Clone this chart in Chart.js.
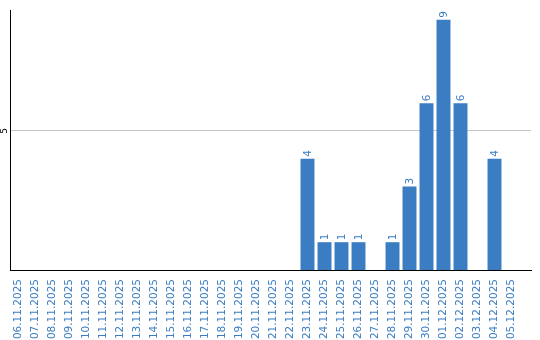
<!DOCTYPE html>
<html>
<head>
<meta charset="utf-8">
<script src="https://cdn.jsdelivr.net/npm/chart.js@4"></script>
<style>
  html, body { margin: 0; padding: 0; background: #fff; }
  #wrap { width: 540px; height: 340px; }
</style>
</head>
<body>
<div id="wrap"><canvas id="chart"></canvas></div>
<script>
// dias
const dias = ['06.11.2025', '07.11.2025', '08.11.2025', '09.11.2025', '10.11.2025',
  '11.11.2025', '12.11.2025', '13.11.2025', '14.11.2025', '15.11.2025',
  '16.11.2025', '17.11.2025', '18.11.2025', '19.11.2025', '20.11.2025',
  '21.11.2025', '22.11.2025', '23.11.2025', '24.11.2025', '25.11.2025',
  '26.11.2025', '27.11.2025', '28.11.2025', '29.11.2025', '30.11.2025',
  '01.12.2025', '02.12.2025', '03.12.2025', '04.12.2025', '05.12.2025'];

// contagens por dia
const contagens = [0, 0, 0, 0, 0, 0, 0, 0, 0, 0,
  0, 0, 0, 0, 0, 0, 0, 4, 1, 1,
  1, 0, 1, 3, 6, 9, 6, 0, 4, 0];

// marcas do eixo y
const marcasY = [5];

const azul = '#3b7dc3';
const fonte = 'DejaVu Sans';
const larguraDia = 17;

// as categorias ocupam só parte da área; o eixo continua até a borda
const encurtarX = {
  id: 'encurtarX',
  afterLayout(chart) {
    const x = chart.scales.x;
    x._endPixel = x._startPixel + larguraDia * dias.length;
    x._length = x._endPixel - x._startPixel;
  }
};

// rótulos de valor acima das barras e marca do eixo y, girados
const rotulos = {
  id: 'rotulos',
  afterDatasetsDraw(chart) {
    const ctx = chart.ctx;
    const meta = chart.getDatasetMeta(0);
    ctx.save();
    ctx.font = '10.5px "' + fonte + '"';
    ctx.fillStyle = azul;
    meta.data.forEach((bar, i) => {
      const v = contagens[i];
      if (!v) return;
      ctx.save();
      ctx.translate(bar.x + 0.5, bar.y - 2);
      ctx.rotate(-Math.PI / 2);
      ctx.textAlign = 'left';
      ctx.textBaseline = 'middle';
      ctx.fillText(String(v), 0, 0);
      ctx.restore();
    });
    const y = chart.scales.y;
    ctx.fillStyle = '#000';
    ctx.font = '9px "' + fonte + '"';
    marcasY.forEach(m => {
      ctx.save();
      ctx.translate(5, y.getPixelForValue(m));
      ctx.rotate(-Math.PI / 2);
      ctx.textAlign = 'center';
      ctx.textBaseline = 'middle';
      ctx.fillText(String(m), 0, 0);
      ctx.restore();
    });
    ctx.restore();
  }
};

new Chart(document.getElementById('chart'), {
  type: 'bar',
  data: {
    labels: dias,
    datasets: [{
      data: contagens,
      backgroundColor: azul,
      barPercentage: 0.82,
      categoryPercentage: 1.0
    }]
  },
  options: {
    responsive: true,
    maintainAspectRatio: false,
    animation: false,
    layout: { padding: { left: 10, top: 10, right: 9, bottom: 0 } },
    plugins: {
      legend: { display: false },
      tooltip: { enabled: false }
    },
    scales: {
      x: {
        grid: { display: false },
        border: { display: true, color: '#000', width: 1 },
        ticks: {
          color: azul,
          font: { family: fonte, size: 10.5 },
          minRotation: 90,
          maxRotation: 90,
          autoSkip: false,
          padding: 1
        },
        afterFit(scale) { scale.height = 70; }
      },
      y: {
        min: 0,
        max: 9.35,
        afterBuildTicks(scale) { scale.ticks = marcasY.map(v => ({ value: v })); },
        grid: { color: '#c8c8c8', drawTicks: false },
        border: { display: true, color: '#000', width: 1 },
        ticks: { display: false },
        afterFit(scale) { scale.width = 0; }
      }
    }
  },
  plugins: [encurtarX, rotulos]
});
</script>
</body>
</html>
